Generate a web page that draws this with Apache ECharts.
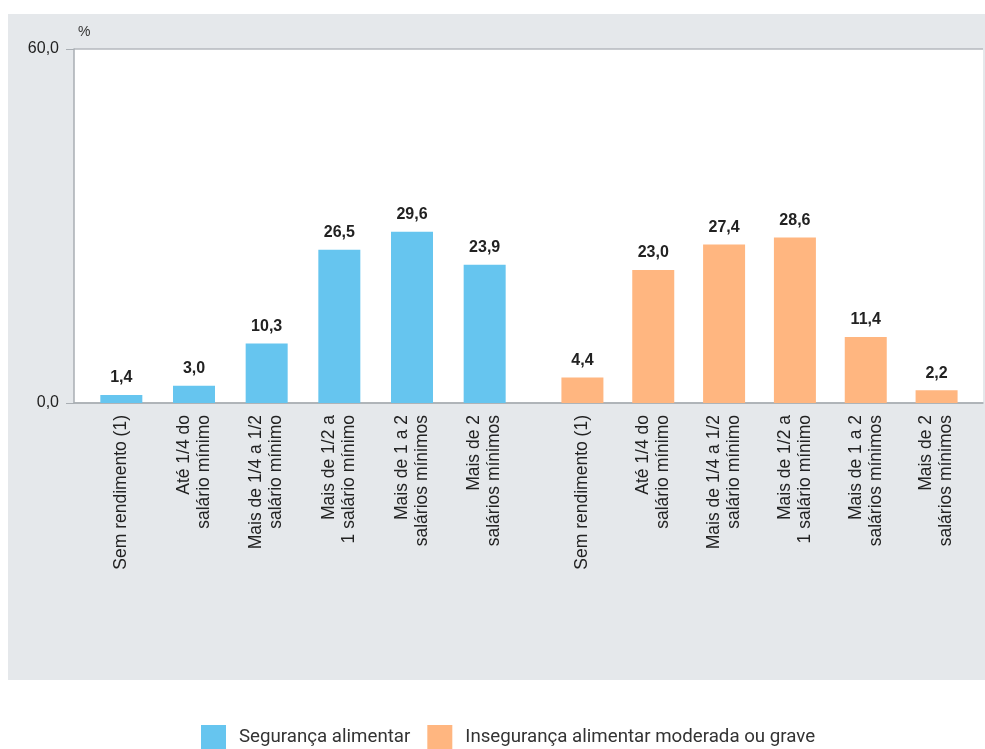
<!DOCTYPE html>
<html>
<head>
<meta charset="utf-8">
<script src="https://cdn.jsdelivr.net/npm/echarts@6/dist/echarts.min.js"></script>
<style>
  html, body { margin: 0; padding: 0; background: #ffffff; }
  #panel { position: absolute; left: 8px; top: 14px; width: 977px; height: 666px; background: #e5e8eb; }
  #chart { position: absolute; left: 0; top: 0; width: 985px; height: 749px; }
</style>
</head>
<body>
<div id="panel"></div>
<div id="chart"></div>
<script>
// ---- data ----
const categories = [
  'Sem rendimento (1)',
  'Até 1/4 do\nsalário mínimo',
  'Mais de 1/4 a 1/2\nsalário mínimo',
  'Mais de 1/2 a\n1 salário mínimo',
  'Mais de 1 a 2\nsalários mínimos',
  'Mais de 2\nsalários mínimos'
];
const seriesNames = ['Segurança alimentar', 'Insegurança alimentar moderada ou grave'];
const segurancaValues = [1.4, 3.0, 10.3, 26.5, 29.6, 23.9];
const insegurancaValues = [4.4, 23.0, 27.4, 28.6, 11.4, 2.2];
const yTicks = [0, 60];
const yUnit = '%';

// ---- chart ----
const FONT = "'Liberation Sans', Arial, sans-serif";
const fmt = v => v.toFixed(1).replace('.', ',');
const chart = echarts.init(document.getElementById('chart'), null, { renderer: 'canvas' });

const catAxis = (gridIndex) => ({
  type: 'category',
  gridIndex: gridIndex,
  data: categories,
  axisLine: { show: false },
  axisTick: { show: false },
  axisLabel: {
    rotate: 90,
    interval: 0,
    margin: 12,
    color: '#222',
    fontFamily: FONT,
    fontSize: 17.5,
    lineHeight: 20
  }
});
const hiddenY = (gridIndex) => ({
  type: 'value', gridIndex: gridIndex, min: yTicks[0], max: yTicks[yTicks.length - 1],
  show: false, splitLine: { show: false }
});
const barLabel = {
  show: true,
  position: 'top',
  distance: 9,
  color: '#222',
  fontFamily: FONT,
  fontSize: 16,
  fontWeight: 'bold',
  formatter: p => fmt(p.value)
};

chart.setOption({
  animation: false,
  backgroundColor: 'transparent',
  grid: [
    { left: 74, top: 49, width: 909, height: 354, show: true, backgroundColor: '#ffffff', borderWidth: 0 },
    { left: 85, top: 56, width: 436, height: 347 },
    { left: 547, top: 56, width: 425, height: 347 }
  ],
  xAxis: [
    { type: 'value', gridIndex: 0, min: 0, max: 1,
      axisLine: { show: true, lineStyle: { color: '#a9aeb3', width: 1.5 } },
      axisTick: { show: false }, axisLabel: { show: false }, splitLine: { show: false } },
    catAxis(1),
    catAxis(2)
  ],
  yAxis: [
    { type: 'value', gridIndex: 0, min: yTicks[0], max: yTicks[yTicks.length - 1], interval: 60,
      name: yUnit, nameLocation: 'end', nameGap: 10,
      nameTextStyle: { color: '#333', fontFamily: FONT, fontSize: 14, align: 'left', padding: [0, 0, 0, 4] },
      axisLine: { show: true, lineStyle: { color: '#a9aeb3', width: 1.5 } },
      axisTick: { show: true, length: 8, lineStyle: { color: '#a9aeb3' } },
      axisLabel: { color: '#222', fontFamily: FONT, fontSize: 16, margin: 15, formatter: v => fmt(v) },
      splitLine: { show: true, lineStyle: { color: '#b4b9be', width: 1.5 } } },
    hiddenY(1),
    hiddenY(2)
  ],
  legend: {
    data: seriesNames,
    bottom: -6,
    left: 196,
    itemWidth: 25,
    itemHeight: 25,
    itemGap: 17,
    icon: 'rect',
    textStyle: { color: '#333', fontFamily: 'Roboto, sans-serif', fontSize: 18.7, padding: [8, 0, 0, 8] }
  },
  series: [
    { name: seriesNames[0], type: 'bar', xAxisIndex: 1, yAxisIndex: 1, data: segurancaValues,
      barWidth: 42, itemStyle: { color: '#66c5ef' }, label: barLabel },
    { name: seriesNames[1], type: 'bar', xAxisIndex: 2, yAxisIndex: 2, data: insegurancaValues,
      barWidth: 42, itemStyle: { color: '#ffb680' }, label: barLabel }
  ]
});
</script>
</body>
</html>
